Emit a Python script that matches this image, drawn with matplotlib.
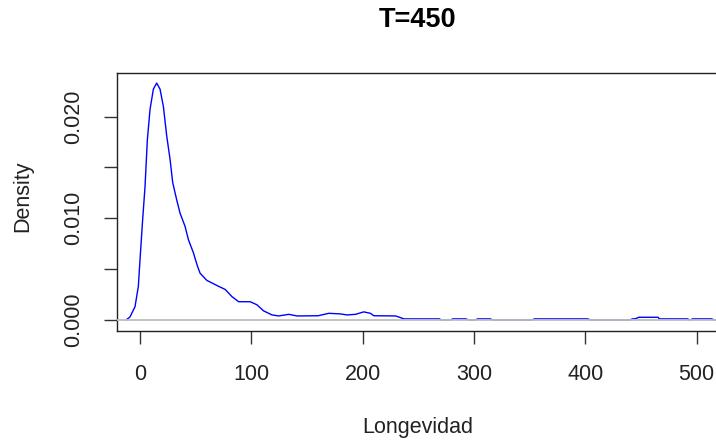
import matplotlib
matplotlib.use("Agg")
import matplotlib.pyplot as plt

# density estimate (Longevidad, T=450)
longevidad = [-12.6, -9, -4.5, -1.5, 0, 2.4, 4.5, 6.6, 9, 12, 15, 18, 21, 24, 27,
              29.4, 33, 36, 40.5, 43.5, 48, 51.6, 54, 60, 69, 76.6, 82.6, 88.6,
              99, 105, 111, 118.6, 124.6, 133.6, 141, 160, 169.7, 180, 186,
              193.7, 201, 207, 210, 229.7, 235.7, 237, 268.8, 271, 279, 280.8,
              292.8, 295, 301, 303.3, 314.7, 317, 352, 354.4, 402.4, 404.5,
              440, 442.3, 445, 448, 465.4, 466.5, 491.9, 494, 496.4, 513.5,
              516, 521]
density = [0, 0.0003, 0.0013, 0.0033, 0.0059, 0.0099, 0.0131, 0.0177, 0.0207,
           0.0227, 0.0233, 0.0227, 0.021, 0.0181, 0.0158, 0.0135, 0.0118,
           0.0105, 0.0092, 0.0079, 0.0066, 0.0053, 0.0046, 0.0039, 0.0034,
           0.0030, 0.0023, 0.0018, 0.0018, 0.0015, 0.0009, 0.0005, 0.0004,
           0.00056, 0.0004, 0.00042, 0.00066, 0.0006, 0.0005, 0.00056, 0.0008,
           0.00066, 0.00042, 0.0004, 0.00017, 0.00011, 0.00011, 0, 0, 0.00011,
           0.00011, 0, 0, 0.00011, 0.00011, 0, 0, 0.00011, 0.00011, 0,
           0, 0.00011, 0.00012, 0.00027, 0.00027, 0.00011, 0.00011, 0, 0.00011,
           0.00011, 0, 0]

x_ticks = [0, 100, 200, 300, 400, 500]
y_ticks = [0, 0.005, 0.010, 0.015, 0.020]
y_labels = ["0.000", "", "0.010", "", "0.020"]

plt.rcParams['font.family'] = ['Liberation Sans', 'DejaVu Sans']

W, H = 716, 446
fig = plt.figure(figsize=(W / 100, H / 100), dpi=100)
ax = fig.add_axes([117 / W, 1 - 331 / H, (720 - 117) / W, (331 - 73) / H])

ax.plot(longevidad, density, color='#0000ff', linewidth=1.0, zorder=2)
ax.axhline(0, color='#bebebe', linewidth=1.3, zorder=3)

ax.set_xlim(-20.66, 521)
ax.set_ylim(-0.00108, 0.02429)
ax.set_xticks(x_ticks)
ax.set_xticklabels([str(t) for t in x_ticks])
ax.set_yticks(y_ticks)
ax.set_yticklabels(y_labels, rotation=90, va='center')
ax.tick_params(axis='both', length=9.5, width=1.0, color='#333333',
               labelsize=15.5, pad=14, labelcolor='#222222')
for s in ax.spines.values():
    s.set_linewidth(1.0)
    s.set_color('#222222')

fig.text(418 / W, 1 - 20 / H, "T=450", ha='center', va='center',
         fontsize=19.5, fontweight='bold')
fig.text(418 / W, 1 - 428 / H, "Longevidad", ha='center', va='center',
         fontsize=15.5, color='#222222')
fig.text(23 / W, 1 - 196 / H, "Density", ha='center', va='center',
         rotation=90, fontsize=15.5, color='#222222')

fig.savefig("out.png", dpi=100)
